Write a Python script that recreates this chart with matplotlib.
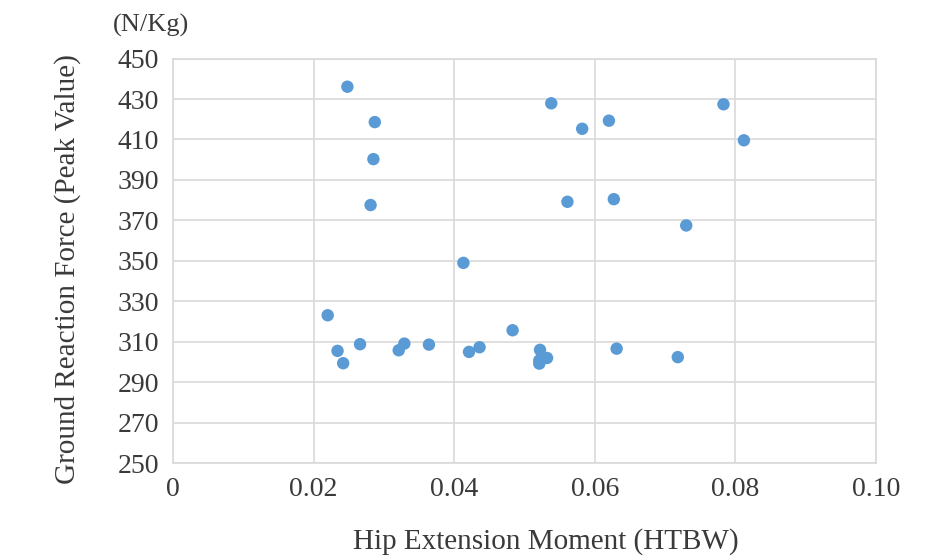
import matplotlib.pyplot as plt

# ========= DATA =========
hip_moment = [0.0248, 0.0287, 0.0285, 0.0281, 0.0538, 0.0582, 0.0620, 0.0783,
              0.0812, 0.0561, 0.0627, 0.0730, 0.0413, 0.0220, 0.0234, 0.0242,
              0.0266, 0.0321, 0.0329, 0.0364, 0.0421, 0.0436, 0.0483, 0.0522,
              0.0521, 0.0521, 0.0532, 0.0631, 0.0718]
grf_peak = [436.1, 418.6, 400.3, 377.6, 427.9, 415.3, 419.3, 427.4,
            409.6, 379.2, 380.5, 367.5, 349.0, 323.1, 305.5, 299.4,
            308.8, 305.8, 309.1, 308.6, 305.0, 307.3, 315.7, 306.0,
            300.8, 299.2, 302.0, 306.6, 302.4]

x_ticks = [0, 0.02, 0.04, 0.06, 0.08, 0.10]
x_tick_labels = ["0", "0.02", "0.04", "0.06", "0.08", "0.10"]
y_ticks = list(range(250, 451, 20))

FONT = "Liberation Serif"
TXT = "#3a3a3a"
GRID = "#d9d9d9"
BLUE = "#5b9bd5"

fig = plt.figure(figsize=(9.43, 5.58), dpi=100)
ax = fig.add_axes([0.1835, 0.170, 0.7455, 0.725])

ax.scatter(hip_moment, grf_peak, s=80, color=BLUE, edgecolors="none", zorder=3)

ax.set_xlim(0, 0.10)
ax.set_ylim(250, 450)
ax.set_xticks(x_ticks)
ax.set_xticklabels(x_tick_labels, family=FONT, fontsize=20)
ax.set_yticks(y_ticks)
ax.set_yticklabels([str(v) for v in y_ticks], family=FONT, fontsize=20)
ax.tick_params(length=0, pad=10, colors=TXT)

ax.grid(True, color=GRID, linewidth=1.2)
ax.set_axisbelow(True)
for sp in ax.spines.values():
    sp.set_color(GRID)
    sp.set_linewidth(1.2)

fig.text(0.579, 0.03, "Hip Extension Moment (HTBW)", family=FONT, fontsize=21,
         ha="center", va="center", color=TXT)
fig.text(0.072, 0.518, "Ground Reaction Force (Peak Value)", family=FONT, fontsize=21,
         ha="center", va="center", rotation=90, color=TXT)
fig.text(0.16, 0.955, "(N/Kg)", family=FONT, fontsize=19,
         ha="center", va="center", color=TXT)

fig.savefig("out.png", dpi=100)
